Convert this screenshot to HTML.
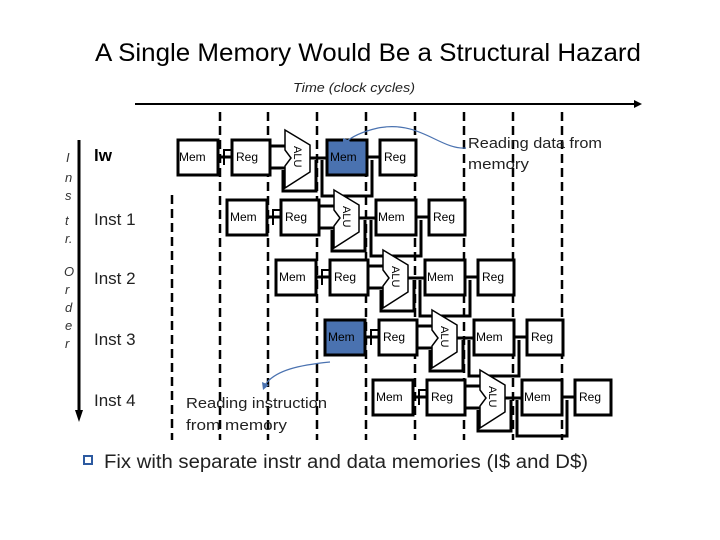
<!DOCTYPE html>
<html><head><meta charset="utf-8"><style>
html,body{margin:0;padding:0;background:#fff}
svg{display:block}
text{font-family:"Liberation Sans",sans-serif}
</style></head><body>
<svg width="720" height="540" viewBox="0 0 720 540" xmlns="http://www.w3.org/2000/svg">
<defs>
<g id="stage">
  <polyline points="283,170 283,191 316,191 316,160" fill="none" stroke="#000" stroke-width="3"/>
  <polyline points="322,160 322,196 372,196 372,160" fill="none" stroke="#000" stroke-width="3"/>
  <line x1="218" y1="157" x2="232" y2="157" stroke="#000" stroke-width="3"/>
  <polyline points="224,165 224,150 232,150" fill="none" stroke="#000" stroke-width="2"/>
  <line x1="270" y1="146" x2="286" y2="146" stroke="#000" stroke-width="3"/>
  <line x1="270" y1="168" x2="286" y2="168" stroke="#000" stroke-width="3"/>
  <line x1="310" y1="158" x2="327" y2="158" stroke="#000" stroke-width="3"/>
  <line x1="367" y1="157" x2="380" y2="157" stroke="#000" stroke-width="3"/>
  <rect x="178" y="140" width="40" height="35" fill="#fff" stroke="#000" stroke-width="3"/>
  <rect x="232" y="140" width="38" height="35" fill="#fff" stroke="#000" stroke-width="3"/>
  <polygon points="285,130 310,145 310,172 285,188 285,166 291,158 285,150" fill="#fff" stroke="#000" stroke-width="1.5"/>
  <text x="0" y="0" font-size="11" transform="translate(294,146) rotate(90)">ALU</text>
  <rect x="380" y="140" width="36" height="35" fill="#fff" stroke="#000" stroke-width="3"/>
  <text x="236" y="161" font-size="12">Reg</text>
  <text x="384" y="161" font-size="12">Reg</text>
</g>
</defs>
<text x="95" y="61" font-size="25" textLength="546" lengthAdjust="spacingAndGlyphs">A Single Memory Would Be a Structural Hazard</text>
<text x="293" y="92" font-size="13" font-style="italic" fill="#222" textLength="122" lengthAdjust="spacingAndGlyphs">Time (clock cycles)</text>
<line x1="135" y1="104" x2="636" y2="104" stroke="#000" stroke-width="2"/>
<polygon points="642,104 634,100 634,108" fill="#000"/>
<g stroke="#000" stroke-width="2.5" stroke-dasharray="9,5">
<line x1="172" y1="195" x2="172" y2="440"/>
<line x1="220" y1="112" x2="220" y2="440"/>
<line x1="268" y1="112" x2="268" y2="440"/>
<line x1="317" y1="112" x2="317" y2="440"/>
<line x1="366" y1="112" x2="366" y2="440"/>
<line x1="415" y1="112" x2="415" y2="440"/>
<line x1="464" y1="112" x2="464" y2="440"/>
<line x1="513" y1="112" x2="513" y2="440"/>
<line x1="562" y1="112" x2="562" y2="440"/>
</g>
<line x1="79" y1="140" x2="79" y2="412" stroke="#000" stroke-width="3"/>
<polygon points="79,422 75,410 83,410" fill="#000"/>
<g font-size="13" font-style="italic" fill="#333">
<text x="66" y="162">I</text><text x="65" y="182">n</text><text x="65" y="200">s</text>
<text x="65" y="225">t</text><text x="65" y="243">r.</text>
<text x="64" y="276">O</text><text x="65" y="294">r</text><text x="65" y="312">d</text>
<text x="65" y="330">e</text><text x="65" y="348">r</text>
</g>
<text x="94" y="161" font-size="17" font-family="Liberation Mono" font-weight="bold">lw</text>
<g font-size="17" fill="#222">
<text x="94" y="225">Inst 1</text><text x="94" y="284">Inst 2</text>
<text x="94" y="345">Inst 3</text><text x="94" y="406">Inst 4</text>
</g>
<use href="#stage"/>
<use href="#stage" transform="translate(49,60)"/>
<use href="#stage" transform="translate(98,120)"/>
<use href="#stage" transform="translate(147,180)"/>
<use href="#stage" transform="translate(195,240)"/>
<rect x="327" y="140" width="40" height="35" fill="#4a72b0" stroke="#000" stroke-width="3"/>
<rect x="376" y="200" width="40" height="35" fill="#fff" stroke="#000" stroke-width="3"/>
<rect x="425" y="260" width="40" height="35" fill="#fff" stroke="#000" stroke-width="3"/>
<rect x="474" y="320" width="40" height="35" fill="#fff" stroke="#000" stroke-width="3"/>
<rect x="522" y="380" width="40" height="35" fill="#fff" stroke="#000" stroke-width="3"/>
<rect x="227" y="200" width="40" height="35" fill="#fff" stroke="#000" stroke-width="3"/>
<rect x="276" y="260" width="40" height="35" fill="#fff" stroke="#000" stroke-width="3"/>
<rect x="325" y="320" width="40" height="35" fill="#4a72b0" stroke="#000" stroke-width="3"/>
<rect x="373" y="380" width="40" height="35" fill="#fff" stroke="#000" stroke-width="3"/>
<g font-size="12">
<text x="179" y="161">Mem</text><text x="330" y="161">Mem</text>
<text x="230" y="221">Mem</text><text x="378" y="221">Mem</text>
<text x="279" y="281">Mem</text><text x="427" y="281">Mem</text>
<text x="328" y="341">Mem</text><text x="476" y="341">Mem</text>
<text x="376" y="401">Mem</text><text x="524" y="401">Mem</text>
</g>
<path d="M466,148 C440,150 420,120 378,128 C365,131 352,136 345,143" fill="none" stroke="#4a72b0" stroke-width="1.2"/>
<polygon points="343,146 343,138 350,141" fill="#4a72b0"/>
<text x="468" y="148" font-size="15" fill="#222" textLength="134" lengthAdjust="spacingAndGlyphs">Reading data from</text>
<text x="468" y="169" font-size="15" fill="#222" textLength="61" lengthAdjust="spacingAndGlyphs">memory</text>
<path d="M265,385 C275,370 300,365 330,362" fill="none" stroke="#4a72b0" stroke-width="1.2"/>
<polygon points="263,390 262,382 269,385" fill="#4a72b0"/>
<text x="186" y="408" font-size="15" fill="#222" textLength="141" lengthAdjust="spacingAndGlyphs">Reading instruction</text>
<text x="186" y="430" font-size="15" fill="#222" textLength="101" lengthAdjust="spacingAndGlyphs">from memory</text>
<rect x="83" y="455" width="10" height="10" fill="#2d5aa0"/>
<rect x="85" y="457" width="6" height="6" fill="#fff"/>
<text x="104" y="468" font-size="19" fill="#222" textLength="484" lengthAdjust="spacingAndGlyphs">Fix with separate instr and data memories (I$ and D$)</text>
</svg>
</body></html>
